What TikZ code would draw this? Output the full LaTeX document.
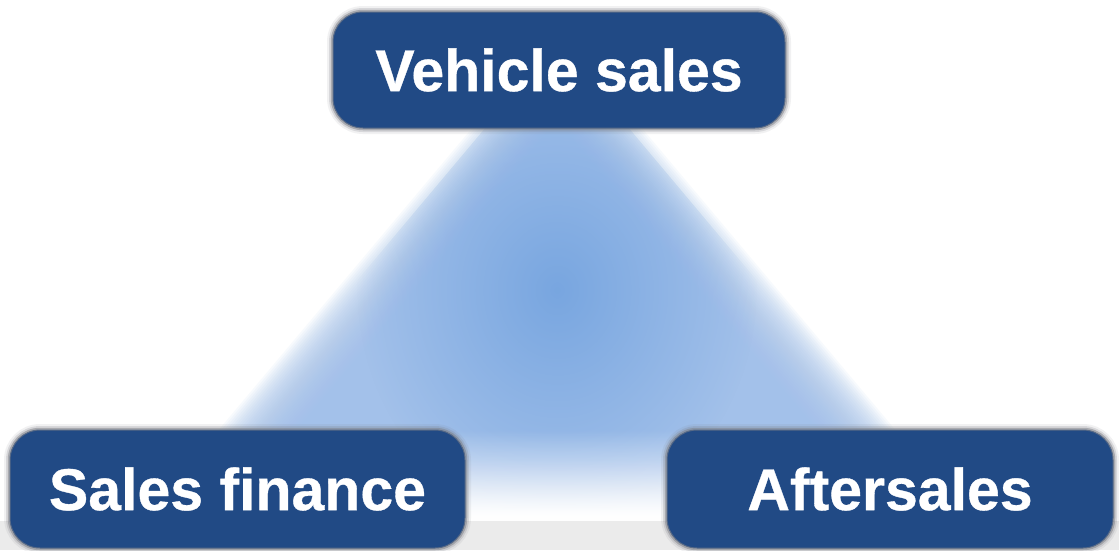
\documentclass[tikz,border=0pt]{standalone}
\usepackage{fontspec}
\setmainfont{Liberation Sans}
\usetikzlibrary{fadings}

\definecolor{boxblue}{HTML}{214A85}
\definecolor{haloGray}{HTML}{7C7F86}
\definecolor{skyA}{HTML}{A2C1EA}
\definecolor{skyB}{HTML}{5C94D9}
\definecolor{stripGray}{HTML}{EBEBEB}

\tikzfading[name=glowfade, inner color=transparent!40, outer color=transparent!100]
\tikzfading[name=downfade, top color=transparent!100, bottom color=transparent!0]

\tikzset{
  unitbox/.style={
    rounded corners=30pt, fill=boxblue, text=white, inner sep=0pt,
    font=\fontsize{59}{70}\selectfont\bfseries\addfontfeature{FakeBold=0.6},
    preaction={draw=haloGray, line width=12pt, opacity=0.10},
    preaction={draw=haloGray, line width=8pt, opacity=0.22},
    preaction={draw=haloGray, line width=4.5pt, opacity=0.5},
    draw=haloGray!60!boxblue, line width=1pt},
  % triangle inset by #1 points towards its incentre
  softtri/.style={shift={(557,327)}, scale={(193-#1)/193}}
}

\begin{document}
\begin{tikzpicture}[x=1pt,y=-1pt]
  \useasboundingbox (0,0) rectangle (1119,550);
  \fill[white] (0,0) rectangle (1119,550);
  \fill[stripGray] (0,521) rectangle (1119,550);

  \begin{scope}
    \clip (0,128) rectangle (1119,521);
    % light-blue triangle, fading out towards its edges
    \foreach \d in {0,2,...,60} {
      \fill[skyA, opacity=0.08, softtri=\d] (0,-300) -- (-414,193) -- (414,193) -- cycle;
    }
    % darker glow in the middle, kept inside the triangle
    \begin{scope}
      \clip[softtri=10] (0,-300) -- (-414,193) -- (414,193) -- cycle;
      \fill[skyB, path fading=glowfade] (557,290) ellipse [x radius=200, y radius=230];
    \end{scope}
    % fade to white towards the bottom
    \fill[white, path fading=downfade] (0,430) rectangle (1119,521);
  \end{scope}

  \node[unitbox, minimum width=452pt, minimum height=116pt] (veh) at (559,70) {Vehicle sales};
  \node[unitbox, minimum width=455pt, minimum height=118pt] (fin) at (237.5,489) {Sales finance};
  \node[unitbox, minimum width=446pt, minimum height=118pt] (aft) at (890,489) {Aftersales};
\end{tikzpicture}
\end{document}
